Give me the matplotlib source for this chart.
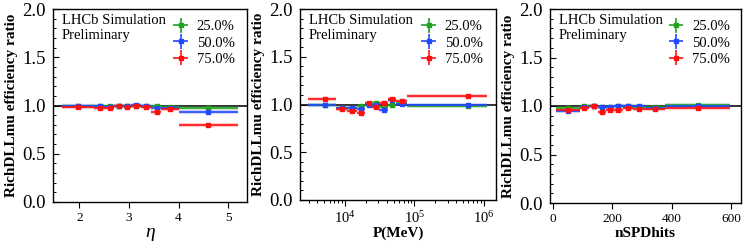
import numpy as np
import matplotlib.pyplot as plt
from matplotlib.ticker import MultipleLocator, FixedLocator

plt.rcParams['font.family'] = ['Liberation Serif', 'DejaVu Serif']
plt.rcParams['mathtext.fontset'] = 'custom'
plt.rcParams['mathtext.rm'] = 'Liberation Serif'
plt.rcParams['mathtext.it'] = 'Liberation Serif:italic'

labels = ['25.0%', '50.0%', '75.0%']
colors = ['#1fa21f', '#2348ff', '#ff1010']

# eta bins
eta_x = [1.97, 2.41, 2.61, 2.80, 2.97, 3.15, 3.34, 3.56, 3.82, 4.60]
eta_lo = [1.65, 2.30, 2.50, 2.70, 2.90, 3.05, 3.25, 3.45, 3.65, 4.00]
eta_hi = [2.30, 2.50, 2.70, 2.90, 3.05, 3.25, 3.45, 3.65, 4.00, 5.20]
eta_25 = [0.99, 1.00, 0.99, 0.99, 0.99, 1.00, 0.99, 1.00, 0.98, 0.97]
eta_50 = [1.00, 0.99, 0.98, 0.99, 0.99, 1.01, 1.00, 0.97, 0.97, 0.93]
eta_75 = [0.985, 0.975, 0.975, 0.99, 0.98, 1.00, 0.985, 0.935, 0.965, 0.795]
eta_err = [0.008, 0.008, 0.008, 0.008, 0.008, 0.008, 0.008, 0.010, 0.010, 0.008]

# momentum bins (MeV)
p_x = [5200, 9000, 12500, 17000, 21800, 27900, 36000, 47500, 66000, 596000]
p_lo = [2900, 7400, 10500, 14800, 19500, 24500, 31000, 41000, 55000, 78000]
p_hi = [7400, 10500, 14800, 19500, 24500, 31000, 41000, 55000, 78000, 1100000]
p_25 = [1.00, 0.96, 0.965, 0.985, 1.01, 1.015, 0.975, 1.00, 1.02, 0.98]
p_50 = [1.00, 0.965, 0.96, 0.95, 1.00, 0.99, 0.945, 1.045, 1.005, 1.00]
p_75 = [1.06, 0.955, 0.935, 0.91, 1.015, 0.975, 1.015, 1.06, 1.035, 1.09]
p_err = [0.012, 0.010, 0.010, 0.012, 0.010, 0.010, 0.010, 0.012, 0.012, 0.012]

# nSPDhits bins
n_x = [53, 106, 139, 165, 193, 221, 252, 291, 344, 490]
n_lo = [12, 92, 122, 152, 180, 207, 236, 270, 315, 378]
n_hi = [92, 122, 152, 180, 207, 236, 270, 315, 378, 595]
n_25 = [0.98, 1.00, 1.00, 0.99, 0.99, 1.005, 1.00, 0.99, 0.985, 1.01]
n_50 = [0.95, 0.985, 1.00, 0.985, 0.985, 1.00, 1.005, 1.005, 0.975, 0.995]
n_75 = [0.955, 0.975, 1.00, 0.94, 0.955, 0.955, 0.98, 0.965, 0.965, 0.98]
n_err = [0.010, 0.010, 0.010, 0.010, 0.010, 0.010, 0.010, 0.010, 0.008, 0.008]


def draw_panel(ax, x, lo, hi, series, err):
    x = np.array(x)
    xerr = [x - np.array(lo), np.array(hi) - x]
    ax.axhline(1.0, color='#333333', lw=1.4, zorder=1)
    for y, c, lab in zip(series, colors, labels):
        # pale band under each bar, like the original style
        ax.errorbar(x, y, xerr=xerr, yerr=err, fmt='none', ecolor=c,
                    elinewidth=3, alpha=0.22, zorder=2)
        ax.errorbar(x, y, xerr=xerr, yerr=err, fmt='s', ms=2.5, color=c,
                    elinewidth=1.2, capsize=0, label=lab, zorder=3)
    ax.set_ylim(0, 2.0)
    ax.yaxis.set_major_locator(MultipleLocator(0.5))
    ax.yaxis.set_minor_locator(MultipleLocator(0.1))
    ax.yaxis.set_major_formatter(plt.FormatStrFormatter('%.1f'))
    ax.tick_params(axis='y', which='major', direction='in', length=4, width=0.8,
                   labelsize=13.5, pad=5)
    ax.tick_params(axis='y', which='minor', direction='in', length=2.2, width=0.7)
    ax.tick_params(axis='x', which='major', direction='out', length=4.3, width=0.8,
                   labelsize=9.5, pad=3)
    ax.tick_params(axis='x', which='minor', direction='out', length=2.2, width=0.7)
    ax.set_ylabel('RichDLLmu efficiency ratio', fontsize=11, fontweight='bold',
                  labelpad=3)
    ax.text(0.046, 0.975, 'LHCb Simulation\nPreliminary', transform=ax.transAxes,
            fontsize=10.5, va='top', ha='left', linespacing=1.2)
    ax.legend(loc='upper left', bbox_to_anchor=(0.545, 1.01), frameon=False,
              fontsize=10.5, handlelength=1.2, handletextpad=0.5,
              labelspacing=0.2)
    for s in ax.spines.values():
        s.set_linewidth(1.0)


fig = plt.figure(figsize=(7.47, 2.46), dpi=100)
ax1 = fig.add_axes([53 / 747, 44 / 246, 194 / 747, 193 / 246])
ax2 = fig.add_axes([300 / 747, 46 / 246, 196 / 747, 191 / 246])
ax3 = fig.add_axes([550 / 747, 43 / 246, 191 / 747, 194 / 246])

draw_panel(ax1, eta_x, eta_lo, eta_hi, [eta_25, eta_50, eta_75], eta_err)
ax1.set_xlim(1.47, 5.38)
ax1.xaxis.set_major_locator(FixedLocator([2, 3, 4, 5]))
ax1.set_xlabel('η', fontsize=14, fontstyle='italic', labelpad=0)

draw_panel(ax2, p_x, p_lo, p_hi, [p_25, p_50, p_75], p_err)
ax2.set_xscale('log')
ax2.set_xlim(2240, 1.5e6)
ax2.tick_params(axis='x', which='major', labelsize=10.5)
ax2.set_xlabel('P(MeV)', fontsize=11, fontweight='bold', labelpad=0)

draw_panel(ax3, n_x, n_lo, n_hi, [n_25, n_50, n_75], n_err)
ax3.set_xlim(-9, 633)
ax3.xaxis.set_major_locator(FixedLocator([0, 200, 400, 600]))
ax3.set_xlabel('nSPDhits', fontsize=11, fontweight='bold', labelpad=1)

fig.savefig('out.png', dpi=100)
